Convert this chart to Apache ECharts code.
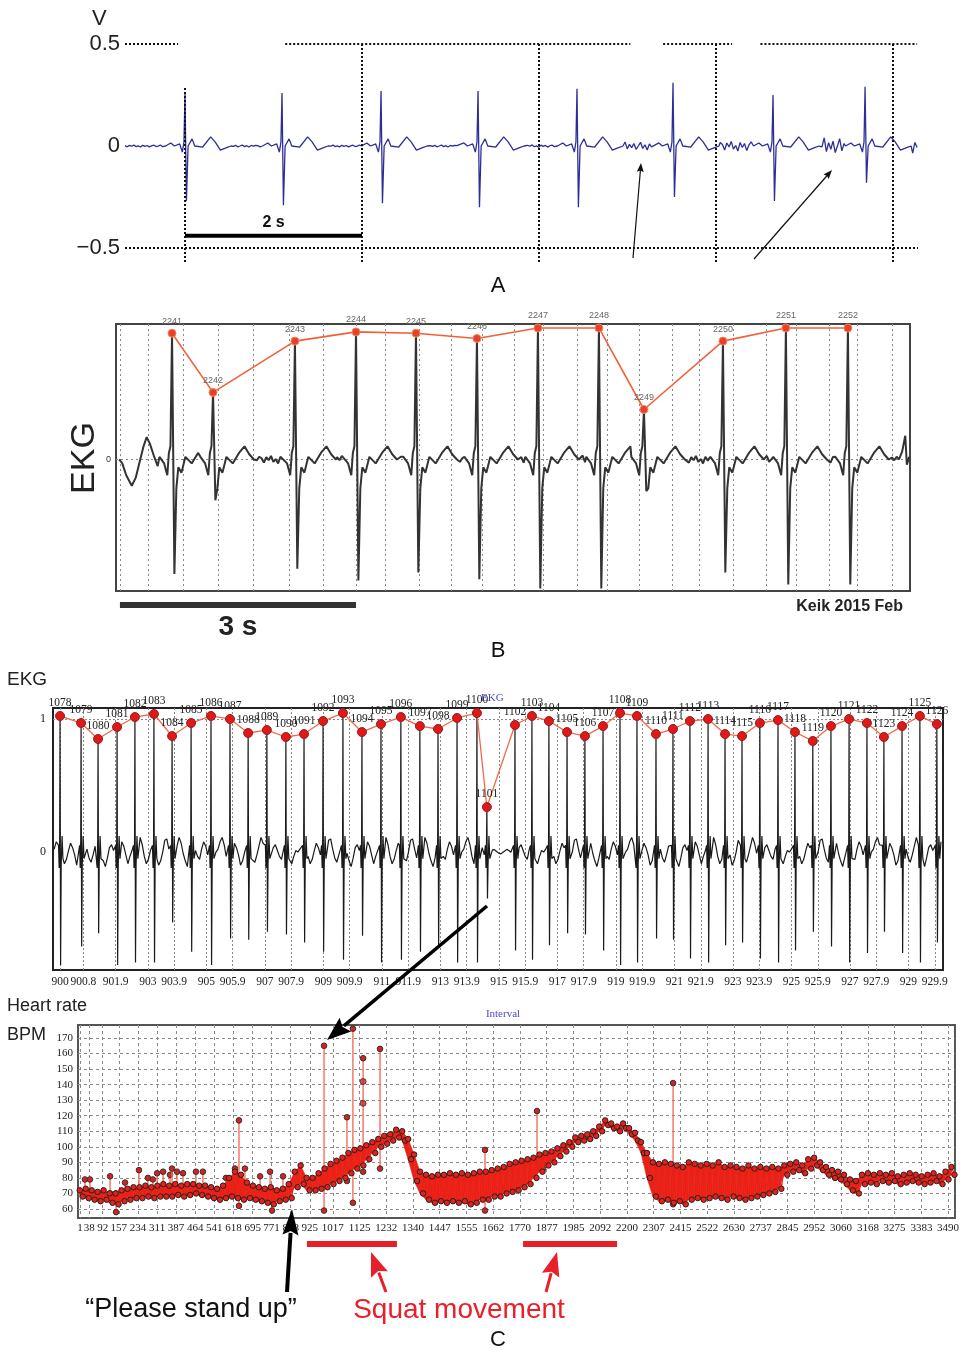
<!DOCTYPE html>
<html><head><meta charset="utf-8">
<script src="https://cdn.jsdelivr.net/npm/echarts@6/dist/echarts.min.js"></script>
<style>html,body{margin:0;padding:0;background:#fff}#c{width:962px;height:1352px}</style>
</head><body><div id="c"></div><script>
// ================= DATA =================
// ---- Panel A (seconds, volts) ----
const aBeatT = [0.678, 1.774, 2.893, 3.989, 5.107, 6.192, 7.322, 8.362];
const aR = [0.255, 0.26, 0.27, 0.27, 0.28, 0.31, 0.25, 0.29];
const aS = [-0.27, -0.29, -0.28, -0.30, -0.30, -0.25, -0.27, -0.18];
const aNoiseAmp = [0.005, 0.005, 0.005, 0.005, 0.006, 0.02, 0.025, 0.04, 0.035];
const aGridT = [0.678, 2.678, 4.678, 6.678, 8.678];
const aGridTop = [0.285, 0.5, 0.5, 0.5, 0.5];
const aTopDotted = [[0, 0.6], [1.81, 5.71], [6.08, 6.86], [7.18, 8.95]];
const aYLabels = [-0.5, 0, 0.5];
const aTemplate = [[-0.22,0],[-0.16,0.015],[-0.12,0],[-0.06,0.01],[-0.03,-0.03],[-0.012,0.02],[0,'R'],[0.016,'S'],[0.035,0],[0.08,0.035],[0.11,0],[0.2,-0.005],[0.29,0.045],[0.34,0.02],[0.4,-0.02],[0.47,-0.008],[0.52,0]];

// ---- Panel B (seconds, relative) ----
const bBeatT = [0.712, 1.233, 2.274, 3.050, 3.812, 4.587, 5.362, 6.137, 6.709, 7.713, 8.513, 9.301];
const bR = [0.96, 0.51, 0.90, 0.97, 0.96, 0.92, 1.0, 1.0, 0.38, 0.90, 1.0, 1.0];
const bS = [-0.87, -0.31, -0.83, -0.92, -0.86, -0.91, -0.98, -0.98, -0.24, -0.86, -0.95, -0.95];
const bLabels = ['2241','2242','2243','2244','2245','2246','2247','2248','2249','2250','2251','2252'];
const bGridT = [0.05, 0.41, 0.85, 1.30, 1.74, 2.20, 2.64, 3.05, 3.42, 3.85, 4.26, 4.66, 5.06, 5.43, 5.86, 6.24, 6.65, 7.07, 7.41, 7.85, 8.26, 8.64, 9.06, 9.42, 9.86];
const bNoiseAmp = [0.03,0.03,0.03,0.03,0.03,0.03,0.03,0.03,0.03,0.03,0.03,0.03,0.03];
const bTemplate = [[-0.16,0.02],[-0.1,-0.03],[-0.06,-0.12],[-0.04,0.05],[-0.02,0.1],[0,'R'],[0.03,'S'],[0.055,-0.22],[0.08,-0.06],[0.12,-0.1],[0.17,0.02],[0.25,-0.03],[0.33,0.05],[0.4,0.1],[0.46,0.04],[0.52,0]];
const bExtra = [
  [[0.04,0.0],[0.08,-0.03],[0.13,-0.12],[0.2,-0.2],[0.25,-0.14],[0.3,-0.02],[0.35,0.1],[0.39,0.17],[0.43,0.12],[0.48,0.03],[0.53,-0.05]],
  [[9.95,0.0],[9.99,0.06],[10.03,0.18],[10.05,-0.04],[10.08,0.02]]
];

// ---- Panel C top (seconds, relative) ----
const cBeatT = [900.00,900.72,901.30,901.95,902.56,903.21,903.83,904.48,905.16,905.81,906.43,907.07,907.72,908.34,908.99,909.67,910.32,910.97,911.65,912.30,912.92,913.57,914.25,914.59,915.55,916.13,916.71,917.33,917.94,918.56,919.14,919.72,920.37,920.95,921.53,922.15,922.73,923.31,923.92,924.54,925.12,925.73,926.35,926.97,927.58,928.16,928.78,929.39,929.97];
const cR = [1.023,0.97,0.85,0.94,1.015,1.038,0.872,0.97,1.023,1.0,0.895,0.917,0.865,0.887,0.985,1.045,0.902,0.962,1.015,0.947,0.925,1.008,1.045,0.338,0.955,1.023,0.985,0.902,0.872,0.947,1.045,1.023,0.887,0.925,0.985,1.0,0.887,0.872,0.97,0.992,0.902,0.835,0.947,1.0,0.97,0.865,0.947,1.023,0.962];
const cS = [-0.85,-0.71,-0.61,-0.85,-0.83,-0.83,-0.53,-0.75,-0.85,-0.65,-0.66,-0.60,-0.62,-0.68,-0.75,-0.81,-0.63,-0.83,-0.81,-0.75,-0.72,-0.83,-0.83,-0.35,-0.74,-0.81,-0.70,-0.61,-0.62,-0.74,-0.85,-0.83,-0.65,-0.66,-0.80,-0.83,-0.70,-0.68,-0.80,-0.83,-0.74,-0.60,-0.71,-0.83,-0.76,-0.60,-0.76,-0.83,-0.68];
const cLabels = ['1078','1079','1080','1081','1082','1083','1084','1085','1086','1087','1088','1089','1090','1091','1092','1093','1094','1095','1096','1097','1098','1099','1100','1101','1102','1103','1104','1105','1106','1107','1108','1109','1110','1111','1112','1113','1114','1115','1116','1117','1118','1119','1120','1121','1122','1123','1124','1125','1126'];
const cTicks = [900, 900.8, 901.9, 903, 903.9, 905, 905.9, 907, 907.9, 909, 909.9, 911, 911.9, 913, 913.9, 915, 915.9, 917, 917.9, 919, 919.9, 921, 921.9, 923, 923.9, 925, 925.9, 927, 927.9, 929, 929.9];
const cNoiseAmp = [0.11,0.11,0.11,0.11,0.11,0.11,0.11,0.11,0.11,0.11,0.11,0.11,0.11,0.11,0.11,0.11,0.11,0.11,0.11,0.11,0.11,0.11,0.11,0.11,0.02,0.11,0.11,0.11,0.11,0.11,0.11,0.11,0.11,0.11,0.11,0.11,0.11,0.11,0.11,0.11,0.11,0.11,0.11,0.11,0.11,0.11,0.11,0.11,0.11,0.11];
const cTemplate = [[-0.05,0.05],[-0.03,-0.12],[-0.012,0.1],[0,'R'],[0.02,'S'],[0.04,-0.1],[0.07,0.12],[0.1,-0.05]];

// hand-typed wiggle sequences (unit amplitude)
const jagged = [0.3,-0.8,0.6,-0.2,0.9,-0.6,0.1,-1.0,0.7,-0.3,0.5,-0.9,0.2,0.8,-0.5,-0.1,1.0,-0.7,0.4,-0.4,0.6,-0.8,0.0,0.9,-0.6,0.3,-1.0,0.5,-0.2,0.7];
const wavy = [0.2,0.7,1.0,0.5,-0.3,-0.8,-0.5,0.1,0.6,0.3,-0.2,-0.9,-0.6,0.0,0.8,0.9,0.2,-0.4,-0.7,-0.2,0.4,1.0,0.6,-0.1,-0.6,-1.0,-0.4,0.3,0.5,0.1,-0.3,-0.5,0.2,0.7,0.4,-0.2,-0.8,-0.3,0.1,0.0];

// ---- Heart rate (time s, BPM) ----
const hrStep = 24;
const hrHi = [72,73,72,71,72,70,70,72,73,74,74,75,74,75,76,75,76,75,76,76,75,75,74,73,75,80,84,82,77,75,74,73,74,72,73,76,84,88,80,80,83,86,89,91,93,96,98,99,101,103,105,107,108,111,110,105,95,84,82,81,82,82,83,82,83,82,83,84,84,85,86,87,89,90,91,92,93,95,96,97,99,101,103,106,107,108,110,113,117,115,113,115,112,109,103,96,90,89,90,89,88,87,90,89,88,89,88,90,87,88,87,86,88,86,87,86,87,86,88,89,90,88,92,93,90,87,85,84,82,79,78,82,83,82,83,82,83,81,82,83,82,81,82,83,81,84,87];
const hrLo = [68,67,66,65,66,64,63,65,66,67,67,68,67,68,68,68,69,68,69,70,69,68,67,66,67,68,67,66,67,66,65,64,63,65,66,67,74,76,72,72,73,74,76,78,80,83,86,88,92,96,100,102,104,106,104,92,78,70,66,64,65,64,65,64,65,63,64,66,66,68,68,70,71,72,74,76,80,84,88,90,94,97,100,103,104,105,107,110,114,112,110,112,108,104,96,80,68,65,66,64,65,63,66,67,66,67,68,67,66,68,67,66,67,68,69,70,71,73,82,84,85,83,86,88,85,82,80,79,76,72,70,76,77,76,78,77,78,76,77,78,77,76,77,78,76,79,82];
const hrOutT  = [21,41,122,146,182,238,274,294,311,335,363,371,391,415,467,495,588,624,640,664,725,765,773,817,982,1074,1098,1139,1207,1629,1697,1838,1862,2385];
const hrOutLo = [70,70,70,58,70,72,72,72,73,73,73,73,74,74,74,74,72,74,62,75,72,72,59,70,59,78,64,84,86,59,74,88,86,63];
const hrOutHi = [79,79,81,70,77,85,80,79,83,84,82,86,84,83,84,84,80,86,117,86,81,84,72,81,165,119,176,157,163,98,84,123,89,141];
const hrMidPts = [[1074,85],[1139,142],[1139,128]];
const hrXTicks = [1,38,92,157,234,311,387,464,541,618,695,771,848,925,1017,1125,1232,1340,1447,1555,1662,1770,1877,1985,2092,2200,2307,2415,2522,2630,2737,2845,2952,3060,3168,3275,3383,3490];
const hrYTicks = [60,70,80,90,100,110,120,130,140,150,160,170];
const squatSpans = [[913, 1275], [1782, 2160]];

// ================= BUILD =================
function buildTrace(beats, R, S, tmpl, noise, amps, dt, t0, t1, extra) {
  const pts = [];
  const lo = tmpl[0][0], hi = tmpl[tmpl.length - 1][0];
  beats.forEach((b, i) => {
    tmpl.forEach(([d, v]) => {
      if (d > 0 && i < beats.length - 1 && b + d >= beats[i + 1] + lo) return;
      const val = v === 'R' ? R[i] : v === 'S' ? S[i] : v;
      pts.push([b + d, val]);
    });
  });
  const wins = (extra || []).map(seg => [seg[0][0], seg[seg.length - 1][0]]);
  (extra || []).forEach(seg => seg.forEach(p => pts.push(p)));
  let k = 0;
  for (let t = t0; t <= t1 + 1e-9; t += dt, k++) {
    if (beats.some(b => t >= b + lo - dt * 0.5 && t <= b + hi + dt * 0.5)) continue;
    if (wins.some(w => t >= w[0] - dt * 0.5 && t <= w[1] + dt * 0.5)) continue;
    let idx = 0; while (idx < beats.length && beats[idx] < t) idx++;
    pts.push([t, noise[k % noise.length] * amps[idx]]);
  }
  pts.sort((a, b) => a[0] - b[0]);
  return pts;
}
const aTrace = buildTrace(aBeatT, aR, aS, aTemplate, jagged, aNoiseAmp, 0.025, 0.0, 8.96, null);
const bTrace = buildTrace(bBeatT, bR, bS, bTemplate, jagged, bNoiseAmp, 0.03, 0.05, 10.0, bExtra);
const cTrace = buildTrace(cBeatT, cR, cS, cTemplate, wavy, cNoiseAmp, 0.07, 899.8, 930.15, null);
const bPeaks = bBeatT.map((t, i) => [t, bR[i]]);
const cPeaks = cBeatT.map((t, i) => [t, cR[i]]);
const hrBand = [];
hrHi.forEach((h, i) => { hrBand.push([i * hrStep, h]); hrBand.push([i * hrStep + hrStep / 2, hrLo[i]]); });
const hrFill = hrHi.slice(0, -1).map((h, i) => [i * hrStep, hrLo[i], h, (i + 1) * hrStep, hrLo[i + 1], hrHi[i + 1]]);
const hrOut = hrOutT.map((t, i) => [t, hrOutLo[i], hrOutHi[i]]);

// A gridline marks
const aMarks = aGridT.map((t, i) => [{ coord: [t, -0.5686] }, { coord: [t, aGridTop[i]] }])
  .concat(aTopDotted.map(([s, e]) => [{ coord: [s, 0.5] }, { coord: [e, 0.5] }]))
  .concat([[{ coord: [0, -0.5] }, { coord: [8.96, -0.5] }]]);

// ================= CHART =================
const SANS = '"Liberation Sans", Arial, sans-serif';
const SERIF = '"Liberation Serif", "Times New Roman", serif';
const chart = echarts.init(document.getElementById('c'), null, { renderer: 'canvas', width: 962, height: 1352 });
const hidden = { show: false };
const option = {
  animation: false,
  backgroundColor: '#fff',
  grid: [
    { left: 125, top: 44, width: 793, height: 218, show: false },
    { left: 116, top: 324, width: 794, height: 267, show: true, borderColor: '#444', borderWidth: 2, backgroundColor: 'transparent' },
    { left: 53, top: 708, width: 890, height: 262, show: true, borderColor: '#222', borderWidth: 2, backgroundColor: 'transparent' },
    { left: 78, top: 1025, width: 877, height: 193, show: true, borderColor: '#555', borderWidth: 2, backgroundColor: 'transparent' }
  ],
  xAxis: [
    { gridIndex: 0, type: 'value', min: 0, max: 8.96, axisLine: hidden, axisLabel: hidden, axisTick: hidden, splitLine: hidden },
    { gridIndex: 1, type: 'value', min: 0, max: 10.09, axisLine: hidden, axisLabel: hidden,
      axisTick: { show: false, customValues: bGridT },
      splitLine: { show: true, lineStyle: { color: '#888', width: 1, type: [2, 3] } } },
    { gridIndex: 2, type: 'value', min: 899.76, max: 930.18, axisLine: hidden,
      axisTick: { show: false, customValues: cTicks },
      axisLabel: { show: true, customValues: cTicks, fontFamily: SERIF, fontSize: 11.5, color: '#222', margin: 6 },
      splitLine: { show: true, lineStyle: { color: '#888', width: 1, type: [2, 2] } } },
    { gridIndex: 3, type: 'value', min: -7, max: 3518, axisLine: hidden,
      axisTick: { show: false, customValues: hrXTicks },
      axisLabel: { show: true, customValues: hrXTicks, fontFamily: SERIF, fontSize: 11, color: '#222', margin: 5, formatter: v => String(v) },
      splitLine: { show: true, lineStyle: { color: '#8a8a8a', width: 1, type: [3, 3] } } }
  ],
  yAxis: [
    { gridIndex: 0, type: 'value', min: -0.5686, max: 0.5, axisLine: hidden,
      axisTick: { show: false, customValues: aYLabels },
      axisLabel: { show: true, customValues: aYLabels, fontFamily: SANS, fontSize: 22, color: '#222', margin: 5,
        formatter: v => (v < 0 ? '\u2212' + Math.abs(v) : String(v)) },
      splitLine: hidden },
    { gridIndex: 1, type: 'value', min: -1.0, max: 1.03, axisLine: hidden,
      axisTick: { show: false, customValues: [0] },
      axisLabel: { show: true, customValues: [0], fontFamily: SANS, fontSize: 9, color: '#333', margin: 5 },
      splitLine: { show: true, lineStyle: { color: '#888', width: 1, type: [2, 3] } } },
    { gridIndex: 2, type: 'value', min: -0.887, max: 1.083, axisLine: hidden,
      axisTick: { show: false, customValues: [1] },
      axisLabel: { show: true, customValues: [0, 1], fontFamily: SERIF, fontSize: 12, color: '#222', margin: 7 },
      splitLine: { show: true, lineStyle: { color: '#888', width: 1, type: [2, 2] } } },
    { gridIndex: 3, type: 'value', min: 54.2, max: 178.36, axisLine: hidden,
      axisTick: { show: false, customValues: hrYTicks },
      axisLabel: { show: true, customValues: hrYTicks, fontFamily: SERIF, fontSize: 11, color: '#222', margin: 5 },
      splitLine: { show: true, lineStyle: { color: '#8a8a8a', width: 1, type: [3, 3] } } }
  ],
  series: [
    { type: 'line', xAxisIndex: 0, yAxisIndex: 0, data: aTrace, showSymbol: false, lineStyle: { color: '#2d2f96', width: 1.3 }, z: 3,
      markLine: { silent: true, symbol: ['none', 'none'], label: { show: false }, animation: false,
        lineStyle: { color: '#111', width: 2, type: [2, 2] }, emphasis: { disabled: true }, data: aMarks } },
    { type: 'line', xAxisIndex: 1, yAxisIndex: 1, data: bTrace, showSymbol: false, lineStyle: { color: '#333', width: 2 }, z: 3 },
    { type: 'line', xAxisIndex: 1, yAxisIndex: 1, data: bPeaks, symbol: 'circle', symbolSize: 8,
      lineStyle: { color: '#f2603a', width: 1.6 }, itemStyle: { color: '#e8402a', borderColor: '#f08a60', borderWidth: 1 },
      label: { show: true, position: 'top', distance: 3, fontFamily: SANS, fontSize: 9, color: '#666', formatter: p => bLabels[p.dataIndex] }, z: 5 },
    { type: 'line', xAxisIndex: 2, yAxisIndex: 2, data: cTrace, showSymbol: false, lineStyle: { color: '#1a1a1a', width: 1.2 }, z: 3 },
    { type: 'line', xAxisIndex: 2, yAxisIndex: 2, data: cPeaks, symbol: 'circle', symbolSize: 9,
      lineStyle: { color: '#f26a4a', width: 1.3 }, itemStyle: { color: '#e01818', borderColor: '#902020', borderWidth: 1 },
      label: { show: true, position: 'top', distance: 2, fontFamily: SERIF, fontSize: 11.5, color: '#222', formatter: p => cLabels[p.dataIndex] }, z: 5 },
    { type: 'custom', xAxisIndex: 3, yAxisIndex: 3, data: hrOut, encode: { x: 0, y: [1, 2] }, z: 2,
      renderItem: (params, api) => {
        const p1 = api.coord([api.value(0), api.value(1)]);
        const p2 = api.coord([api.value(0), api.value(2)]);
        return { type: 'group', children: [
          { type: 'line', shape: { x1: p1[0], y1: p1[1], x2: p2[0], y2: p2[1] }, style: { stroke: '#f2705e', lineWidth: 1.4 } },
          { type: 'circle', shape: { cx: p1[0], cy: p1[1], r: 2.8 }, style: { fill: '#d82020', stroke: '#333', lineWidth: 1 } },
          { type: 'circle', shape: { cx: p2[0], cy: p2[1], r: 2.8 }, style: { fill: '#d82020', stroke: '#333', lineWidth: 1 } }
        ] };
      } },
    { type: 'scatter', xAxisIndex: 3, yAxisIndex: 3, data: hrMidPts, symbolSize: 6, itemStyle: { color: '#d82020', borderColor: '#333', borderWidth: 1 }, z: 2 },
    { type: 'custom', xAxisIndex: 3, yAxisIndex: 3, data: hrFill, encode: { x: [0, 3], y: [1, 2, 4, 5] }, z: 3,
      renderItem: (params, api) => {
        const a = api.coord([api.value(0), api.value(1)]);
        const b = api.coord([api.value(0), api.value(2)]);
        const c = api.coord([api.value(3), api.value(5)]);
        const d = api.coord([api.value(3), api.value(4)]);
        return { type: 'polygon', shape: { points: [a, b, c, d] }, style: { fill: '#e82018', stroke: '#e82018', lineWidth: 0.6 } };
      } },
    { type: 'line', xAxisIndex: 3, yAxisIndex: 3, data: hrBand, symbol: 'circle', symbolSize: 5.5,
      lineStyle: { color: '#ee2418', width: 1.3 }, itemStyle: { color: '#e82018', borderColor: '#222', borderWidth: 1 }, z: 4 }
  ]
};
chart.setOption(option);

// ================= ANNOTATIONS =================
function arrow(x1, y1, x2, y2, w, L, H, color) {
  const dx = x2 - x1, dy = y2 - y1, len = Math.hypot(dx, dy);
  const ux = dx / len, uy = dy / len, nx = -uy, ny = ux;
  const bx = x2 - ux * L, by = y2 - uy * L;
  return [
    { type: 'line', shape: { x1, y1, x2: bx + ux * 2, y2: by + uy * 2 }, style: { stroke: color, lineWidth: w }, z: 100 },
    { type: 'polygon', shape: { points: [[x2, y2], [bx + nx * H, by + ny * H], [bx + ux * L * 0.15, by + uy * L * 0.15], [bx - nx * H, by - ny * H]] }, style: { fill: color }, z: 100 }
  ];
}
function txt(text, x, y, font, fill, align, extra) {
  return Object.assign({ type: 'text', x, y, z: 100, style: { text, font, fill: fill || '#111', textAlign: align || 'left', textVerticalAlign: 'middle' } }, extra || {});
}
const g = [];
// Panel A
g.push(txt('V', 92, 19, '22px ' + SANS, '#222'));
const a1 = chart.convertToPixel({ gridIndex: 0 }, [aGridT[0], -0.44]);
const a2 = chart.convertToPixel({ gridIndex: 0 }, [aGridT[1], -0.44]);
g.push({ type: 'line', shape: { x1: a1[0], y1: a1[1], x2: a2[0], y2: a2[1] }, style: { stroke: '#000', lineWidth: 4 }, z: 100 });
g.push(txt('2 s', (a1[0] + a2[0]) / 2, a1[1] - 13, 'bold 16px ' + SANS, '#111', 'center'));
g.push(...arrow(633, 258, 641, 163, 1.2, 9, 3.5, '#111'));
g.push(...arrow(754, 259, 832, 170, 1.2, 9, 3.5, '#111'));
g.push(txt('A', 498, 286, '22px ' + SANS, '#111', 'center'));
// Panel B
g.push(txt('EKG', 85, 458, '34px ' + SANS, '#222', 'center', { rotation: Math.PI / 2 }));
const b1 = chart.convertToPixel({ xAxisIndex: 1 }, bGridT[0]);
const b2 = chart.convertToPixel({ xAxisIndex: 1 }, bGridT[0] + 3);
g.push({ type: 'line', shape: { x1: b1, y1: 605, x2: b2, y2: 605 }, style: { stroke: '#333', lineWidth: 6 }, z: 100 });
g.push(txt('3 s', (b1 + b2) / 2, 627, 'bold 28px ' + SANS, '#222', 'center'));
g.push(txt('Keik 2015 Feb', 903, 607, 'bold 16px ' + SANS, '#222', 'right'));
g.push(txt('B', 498, 651, '22px ' + SANS, '#111', 'center'));
// Panel C
g.push(txt('EKG', 7, 680, '19px ' + SANS, '#222'));
g.push(txt('EKG', 481, 698, '11px ' + SERIF, '#4a4ac8'));
g.push(txt('Heart rate', 7, 1006, '18px ' + SANS, '#222'));
g.push(txt('BPM', 7, 1035, '18px ' + SANS, '#222'));
g.push(txt('Interval', 503, 1014, '11px ' + SERIF, '#4a4ac8', 'center'));
g.push(...arrow(487, 906, 327, 1040, 3.5, 24, 9, '#000'));
g.push(...arrow(287, 1292, 292, 1209, 4, 26, 8, '#000'));
squatSpans.forEach(([s, e]) => {
  const x1 = chart.convertToPixel({ xAxisIndex: 3 }, s);
  const x2 = chart.convertToPixel({ xAxisIndex: 3 }, e);
  g.push({ type: 'line', shape: { x1, y1: 1244, x2, y2: 1244 }, style: { stroke: '#e8202a', lineWidth: 6 }, z: 100 });
});
g.push(...arrow(386, 1292, 371, 1252, 3, 24, 9, '#e8202a'));
g.push(...arrow(546, 1292, 557, 1252, 3, 24, 9, '#e8202a'));
g.push(txt('\u201cPlease stand up\u201d', 191, 1310, '27px ' + SANS, '#111', 'center'));
g.push(txt('Squat movement', 459, 1310, '28px ' + SANS, '#e8202a', 'center'));
g.push(txt('C', 498, 1340, '22px ' + SANS, '#111', 'center'));
chart.setOption({ graphic: g });
</script></body></html>
